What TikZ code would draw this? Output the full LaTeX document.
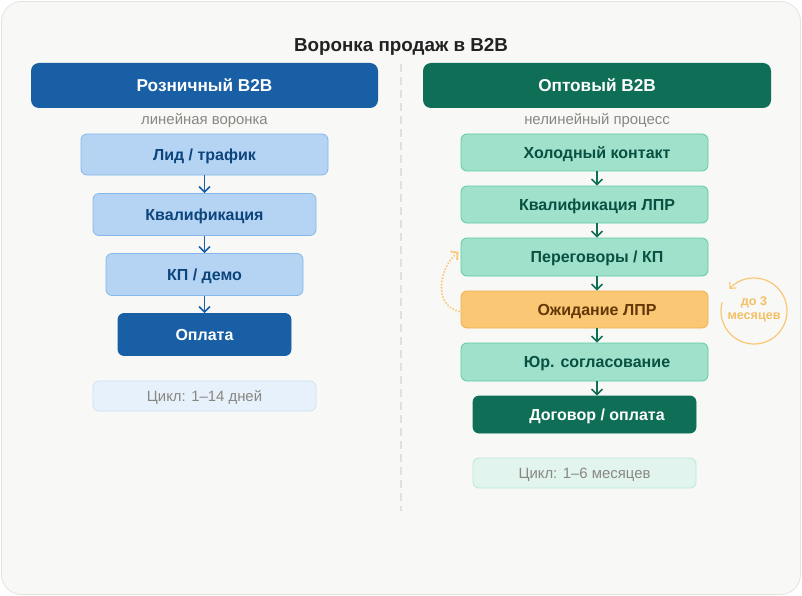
\documentclass[tikz,border=0pt]{standalone}
\usepackage{fontspec}
\setmainfont{Liberation Sans}
\usetikzlibrary{arrows.meta,calc}
\definecolor{bg}{HTML}{F8F8F6}
\definecolor{bgline}{HTML}{E4E4E0}
\definecolor{blueH}{HTML}{185FA5}
\definecolor{blueL}{HTML}{B5D4F4}
\definecolor{blueS}{HTML}{85B7EB}
\definecolor{blueT}{HTML}{0C447C}
\definecolor{blueC}{HTML}{E6F1FB}
\definecolor{blueCS}{HTML}{CDE1F5}
\definecolor{tealH}{HTML}{0F6E56}
\definecolor{tealL}{HTML}{9FE1CB}
\definecolor{tealS}{HTML}{5DCAA5}
\definecolor{tealT}{HTML}{085041}
\definecolor{tealC}{HTML}{E1F5EE}
\definecolor{tealCS}{HTML}{B8E8D7}
\definecolor{amberL}{HTML}{FAC775}
\definecolor{amberS}{HTML}{EFB04A}
\definecolor{amberT}{HTML}{633806}
\definecolor{amberX}{HTML}{F3C064}
\definecolor{grayT}{HTML}{888780}
\definecolor{titleT}{HTML}{222222}
\definecolor{divc}{HTML}{E0E0DC}
\begin{document}
\begin{tikzpicture}[x=1pt,y=-1pt,
  header/.style={rectangle, rounded corners=8pt, inner sep=0pt, minimum height=45pt, minimum width=347pt, text=white, text height=15.6pt, text depth=3.65pt, font=\bfseries\fontsize{17.2}{20}\selectfont},
  box/.style={rectangle, rounded corners=6pt, inner sep=0pt, line width=0.8pt, text height=14.5pt, text depth=3.4pt, font=\bfseries\fontsize{16}{19}\selectfont},
  lbox/.style={box, fill=blueL, draw=blueS, text=blueT},
  rbox/.style={box, fill=tealL, draw=tealS, text=tealT, minimum width=247pt, minimum height=37pt},
  cycle/.style={rectangle, rounded corners=6pt, inner sep=0pt, line width=0.8pt, minimum width=223pt, text=grayT, text height=13.5pt, text depth=3.16pt, font=\fontsize{14.9}{17}\selectfont},
  subt/.style={inner sep=0pt, text=grayT, text height=13.5pt, text depth=3.16pt, font=\fontsize{14.9}{17}\selectfont},
  arrL/.style={draw=blueH, line width=1.5pt, -{Straight Barb[length=5.5pt,width=11pt,line width=1.5pt]}},
  arrR/.style={draw=tealH, line width=1.5pt, -{Straight Barb[length=5.5pt,width=11pt,line width=1.5pt]}},
  loopar/.style={draw=amberL, line width=2.2pt, line cap=round, dash pattern=on 0.01pt off 3.2pt, -{Straight Barb[length=5pt,width=11pt,line width=1.7pt]}},
  circar/.style={draw=amberL, line width=1.2pt, -{Straight Barb[length=4.5pt,width=9pt,line width=1.2pt]}},
  divider/.style={draw=divc, line width=1.2pt, dash pattern=on 8pt off 5pt}
]
\useasboundingbox (0,0) rectangle (802,596);
\draw[fill=bg, draw=bgline, line width=0.8pt, rounded corners=20pt] (1.5,1.5) rectangle (800.5,594.5);

\node[inner sep=0pt, text=titleT, text height=17pt, text depth=4pt, font=\bfseries\fontsize{18.8}{22}\selectfont] (title) at (401,45) {Воронка продаж в B2B};

% divider
\coordinate (dtop) at (401,64);
\coordinate (dbot) at (401,511);
\draw[divider] (dtop) -- (dbot);

% left column
\node[header, fill=blueH] (lh) at (204.5,85.5) {Розничный B2B};
\node[subt] (ls) at (204.5,119) {линейная воронка};
\node[lbox, minimum width=247pt, minimum height=41pt] (lid) at (204.5,154.5) {Лид / трафик};
\node[lbox, minimum width=223pt, minimum height=42pt] (kval) at (204.5,214.5) {Квалификация};
\node[lbox, minimum width=197pt, minimum height=42pt] (kp) at (204.5,274.5) {КП / демо};
\node[box, fill=blueH, draw=blueH, text=white, minimum width=173pt, minimum height=42pt] (opl) at (204.5,334.5) {Оплата};
\node[cycle, fill=blueC, draw=blueCS, minimum height=30pt] (cyc1) at (204.5,396) {Цикл: 1–14 дней};
\draw[arrL] (lid) -- (kval);
\draw[arrL] (kval) -- (kp);
\draw[arrL] (kp) -- (opl);

% right column
\node[header, fill=tealH, minimum width=348pt] (rh) at (597,85.5) {Оптовый B2B};
\node[subt] (rs) at (597,119) {нелинейный процесс};
\coordinate (ax) at (597,0);
\node[rbox] (hol) at (584.5,152.5) {\hspace*{25pt}Холодный контакт};
\node[rbox] (kvl) at (584.5,204.5) {\hspace*{25pt}Квалификация ЛПР};
\node[rbox, minimum height=38pt] (per) at (584.5,257) {\hspace*{25pt}Переговоры / КП};
\node[rbox, fill=amberL, draw=amberS, text=amberT] (ozh) at (584.5,309.5) {\hspace*{25pt}Ожидание ЛПР};
\node[rbox, minimum height=38pt] (yur) at (584.5,362) {\hspace*{25pt}Юр. согласование};
\node[box, fill=tealH, draw=tealH, text=white, minimum width=223pt, minimum height=37pt] (dog) at (584.5,414.5) {\hspace*{25pt}Договор / оплата};
\node[cycle, fill=tealC, draw=tealCS, minimum height=30pt] (cyc2) at (584.5,473) {Цикл: 1–6 месяцев};
\draw[arrR] (hol.south -| ax) -- (kvl.north -| ax);
\draw[arrR] (kvl.south -| ax) -- (per.north -| ax);
\draw[arrR] (per.south -| ax) -- (ozh.north -| ax);
\draw[arrR] (ozh.south -| ax) -- (yur.north -| ax);
\draw[arrR] (yur.south -| ax) -- (dog.north -| ax);

% loop back arrow
\draw[loopar] ($(ozh.west)+(-1.5,2)$) .. controls (432,305) and (440,266) .. ($(per.west)+(-2,-5)$);

% waiting circle
\coordinate (cc) at (754,311);
\draw[circar] ([shift={(-165:33)}]cc) arc[start angle=-165, end angle=-498, radius=33];
\node[text=amberX, align=center, inner sep=0pt, font=\bfseries\fontsize{12.6}{14}\selectfont] (ctext) at (754,309) {до 3\\месяцев};
\end{tikzpicture}
\end{document}
